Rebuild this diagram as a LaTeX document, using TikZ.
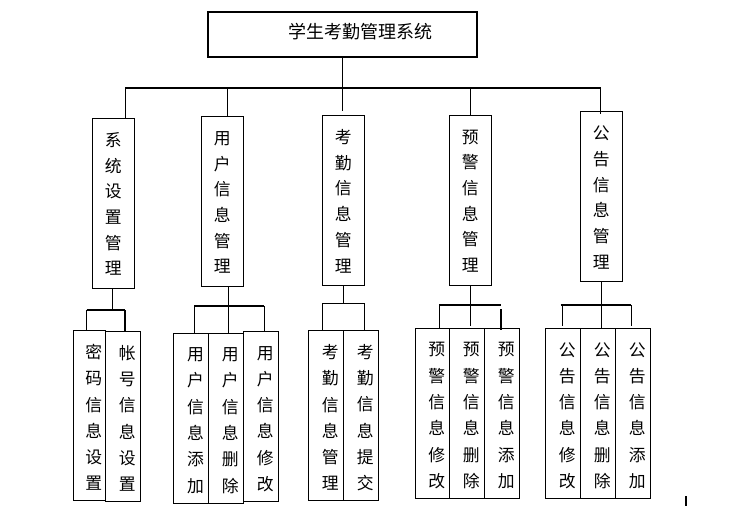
\documentclass[tikz,border=0pt]{standalone}
\usepackage{fontspec}
\newfontfamily\cjk{Noto Sans CJK SC}
\begin{document}
\begin{tikzpicture}[x=1pt,y=-1pt,
  box/.style={draw,line width=1.1pt,inner sep=0pt},
  conn/.style={line width=1.1pt},
  lbl/.style={font=\cjk\fontsize{16.8}{25.7}\selectfont,align=center,inner sep=0pt},
  lbls/.style={font=\cjk\fontsize{16.8}{26.3}\selectfont,align=center,inner sep=0pt},
  bigbox/.style={box,minimum width=42pt,minimum height=170pt},
  smallbox/.style={box,minimum width=35pt,minimum height=170pt},
]
\useasboundingbox (0,0) rectangle (738,506);

% title
\node[box,minimum width=269pt,minimum height=45pt] (T) at (342.5,34.5) {};
\node[font=\cjk\fontsize{18}{18}\selectfont,inner sep=0pt] (Tt) at (360,32) {学生考勤管理系统};

% level 2
\node[bigbox] (L1) at (113.3,203.3) {};
\node[lbl,yshift=-0.8pt] (L1t) at (L1.center) {系\\统\\设\\置\\管\\理};
\node[bigbox] (L2) at (222.3,201.8) {};
\node[lbl,yshift=-0.8pt] (L2t) at (L2.center) {用\\户\\信\\息\\管\\理};
\node[bigbox] (L3) at (343.3,200.3) {};
\node[lbl,yshift=-0.8pt] (L3t) at (L3.center) {考\\勤\\信\\息\\管\\理};
\node[bigbox] (L4) at (470.3,200.3) {};
\node[lbl,yshift=-0.8pt] (L4t) at (L4.center) {预\\警\\信\\息\\管\\理};
\node[bigbox] (L5) at (601.3,196.8) {};
\node[lbl,yshift=-0.8pt] (L5t) at (L5.center) {公\\告\\信\\息\\管\\理};

% level 3
\node[smallbox,minimum width=32pt] (A1) at (89.3,415.2) {};
\node[lbls,xshift=4.5pt,yshift=-2.3pt] (A1t) at (A1.center) {密\\码\\信\\息\\设\\置};
\node[smallbox] (A2) at (122.8,416.2) {};
\node[lbls,xshift=4.5pt,yshift=-2.3pt] (A2t) at (A2.center) {帐\\号\\信\\息\\设\\置};

\node[smallbox] (B1) at (191,418.3) {};
\node[lbls,xshift=4.5pt,yshift=-2.3pt] (B1t) at (B1.center) {用\\户\\信\\息\\添\\加};
\node[smallbox] (B2) at (225.8,418.3) {};
\node[lbls,xshift=4.5pt,yshift=-2.3pt] (B2t) at (B2.center) {用\\户\\信\\息\\删\\除};
\node[smallbox] (B3) at (260.8,416.7) {};
\node[lbls,xshift=4.5pt,yshift=-2.3pt] (B3t) at (B3.center) {用\\户\\信\\息\\修\\改};

\node[smallbox] (C1) at (325.8,415.2) {};
\node[lbls,xshift=4.5pt,yshift=-2.3pt] (C1t) at (C1.center) {考\\勤\\信\\息\\管\\理};
\node[smallbox] (C2) at (360.8,415.2) {};
\node[lbls,xshift=4.5pt,yshift=-2.3pt] (C2t) at (C2.center) {考\\勤\\信\\息\\提\\交};

\node[smallbox,minimum width=34pt] (D1) at (432.3,413.3) {};
\node[lbls,xshift=4.5pt,yshift=-2.3pt] (D1t) at (D1.center) {预\\警\\信\\息\\修\\改};
\node[smallbox] (D2) at (466.8,413.3) {};
\node[lbls,xshift=4.5pt,yshift=-2.3pt] (D2t) at (D2.center) {预\\警\\信\\息\\删\\除};
\node[smallbox] (D3) at (501.8,413.3) {};
\node[lbls,xshift=4.5pt,yshift=-2.3pt] (D3t) at (D3.center) {预\\警\\信\\息\\添\\加};

\node[smallbox] (E1) at (562.8,413.3) {};
\node[lbls,xshift=4.5pt,yshift=-2.3pt] (E1t) at (E1.center) {公\\告\\信\\息\\修\\改};
\node[smallbox] (E2) at (597.8,413.3) {};
\node[lbls,xshift=4.5pt,yshift=-2.3pt] (E2t) at (E2.center) {公\\告\\信\\息\\删\\除};
\node[smallbox] (E3) at (632.8,413.3) {};
\node[lbls,xshift=4.5pt,yshift=-2.3pt] (E3t) at (E3.center) {公\\告\\信\\息\\添\\加};

% top connectors
\coordinate (j1) at (125.3,88);
\coordinate (j2) at (227.3,88);
\coordinate (j3) at (342.5,88);
\coordinate (j4) at (470.3,88);
\coordinate (j5) at (600.5,88);
\draw[conn] (T.south) -- (j3);
\draw[conn] (j1) -- (j5);
\draw[conn] (j1) -- (j1 |- L1.north);
\draw[conn] (j2) -- (j2 |- L2.north);
\draw[conn,shorten >=3.5pt] (j3) -- (j3 |- L3.north);
\draw[conn] (j4) -- (j4 |- L4.north);
\draw[conn,shorten >=-3pt] (j5) -- (j5 |- L5.north);

% column 1
\coordinate (k1) at (112.3,310);
\coordinate (p1a) at (86.7,310);
\coordinate (p1b) at (125,310);
\draw[conn] (k1 |- L1.south) -- (k1);
\draw[conn] (p1a) -- (p1b);
\draw[conn] (p1a) -- (p1a |- A1.north);
\draw[conn] (p1b) -- (p1b |- A2.north);

% column 2
\coordinate (k2) at (228.3,306);
\coordinate (p2a) at (194.3,306);
\coordinate (p2b) at (264.3,306);
\draw[conn] (k2 |- L2.south) -- (k2 |- B2.north);
\draw[conn] (p2a) -- (p2b);
\draw[conn] (p2a) -- (p2a |- B1.north);
\draw[conn] (p2b) -- (p2b |- B3.north);

% column 3
\coordinate (k3) at (343.3,303.3);
\coordinate (p3a) at (322.7,303.3);
\coordinate (p3b) at (364.3,303.3);
\draw[conn] (k3 |- L3.south) -- (k3);
\draw[conn] (p3a) -- (p3b);
\draw[conn] (p3a) -- (p3a |- C1.north);
\draw[conn] (p3b) -- (p3b |- C2.north);

% column 4
\coordinate (k4) at (470.3,305);
\coordinate (p4a) at (439.3,305);
\coordinate (p4b) at (501,305);
\coordinate (q4) at (501,309.3);
\draw[conn,shorten >=1.6pt] (k4 |- L4.south) -- (k4 |- D2.north);
\draw[conn] (p4a) -- (p4b);
\draw[conn] (p4a) -- (p4a |- D1.north);
\draw[conn,shorten >=-2.4pt] (q4) -- (q4 |- D3.north);

% column 5
\coordinate (k5) at (601.3,305);
\coordinate (p5a) at (560.7,305);
\coordinate (p5b) at (631.3,305);
\coordinate (r5) at (562.3,305);
\draw[conn] (k5 |- L5.south) -- (k5 |- E2.north);
\draw[conn] (p5a) -- (p5b);
\draw[conn,shorten >=1.6pt] (r5) -- (r5 |- E1.north);
\draw[conn,shorten >=1.6pt] (p5b) -- (p5b |- E3.north);

% stray mark
\coordinate (m1) at (685.7,496);
\coordinate (m2) at (685.7,506);
\draw[line width=1.7pt] (m1) -- (m2);
\end{tikzpicture}
\end{document}
